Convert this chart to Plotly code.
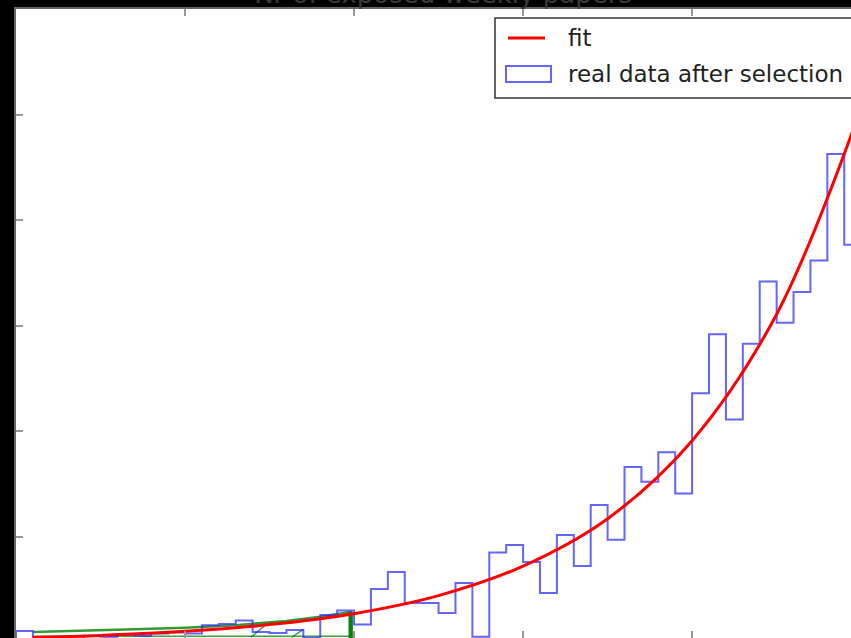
import plotly.graph_objects as go

# ---- data ----
bin_edges = list(range(0, 51))
counts = [10.4, 4, 5, 3, 6, 5, 7, 6, 8, 9, 8,
          16, 17, 20.4, 9.5, 8.5, 11.4, 4, 25.6, 29.9,
          16.6, 50.3, 66.4, 37, 37, 27.5, 56, 5, 85, 92,
          76, 46.5, 101.5, 72, 130, 97, 166, 152, 180, 141,
          236, 292, 211, 283, 342, 303, 332, 362, 463, 377]

fit_x = [1, 5, 10, 15, 20, 25, 30, 35, 40, 45, 50]
fit_y = [4.2, 6.2, 10.1, 16.5, 26.9, 44, 72, 117, 191, 311, 507]

green_x = [1, 4, 7, 10, 13, 16, 18, 19.8, 19.8]
green_y = [9.5, 10.5, 12, 13.5, 16, 20, 24, 28.5, 0]

green_low_x = [1, 19.8, None, 13.9, 14.9, None, 16.3, 17.0]
green_low_y = [5.5, 5.5, None, 4.5, 18, None, 4.5, 12]

x_ticks = [0, 10, 20, 30, 40]
y_ticks = [100, 200, 300, 400, 500, 600]

title_text = "Nr of exposed weekly papers"
legend_labels = ["fit", "real data after selection"]

# ---- geometry helpers (page pixels -> paper coords) ----
W, H = 851, 638
ML, MT = 16, 9
PW, PH = W - ML, H - MT


def px(x):
    return (x - ML) / PW


def py(y):
    return (H - y) / PH


# ---- build step outline of histogram ----
step_x = [bin_edges[0]] + bin_edges[:-1] + [bin_edges[-1], bin_edges[-1]]
step_y = [0] + counts + [counts[-1], 0]

BLUE = "rgba(40,40,255,0.72)"
RED = "#ff0000"
GREEN = "rgba(0,128,0,0.8)"
fig = go.Figure()

fig.add_trace(go.Scatter(x=green_low_x, y=green_low_y, mode="lines",
                         line=dict(color="rgba(0,128,0,0.75)", width=1.5),
                         showlegend=False, hoverinfo="skip"))
fig.add_trace(go.Scatter(x=green_x, y=green_y, mode="lines",
                         line=dict(color=GREEN, width=2.5),
                         showlegend=False, hoverinfo="skip"))
# the thick drop at the end of the green line
fig.add_trace(go.Scatter(x=green_x[-2:], y=green_y[-2:], mode="lines",
                         line=dict(color="rgba(0,128,0,0.9)", width=4.5),
                         showlegend=False, hoverinfo="skip"))

fig.add_trace(go.Scatter(x=step_x, y=step_y, mode="lines", line_shape="hv",
                         line=dict(color=BLUE, width=2),
                         showlegend=False, name=legend_labels[1]))

fig.add_trace(go.Scatter(x=fit_x, y=fit_y, mode="lines", line_shape="spline",
                         line=dict(color=RED, width=3),
                         name=legend_labels[0], showlegend=False))

# make xaxis2 appear even without traces
fig.add_trace(go.Scatter(x=[None], y=[None], xaxis="x2", showlegend=False))

# ---- matplotlib-like legend box ----
shapes = [
    dict(type="rect", xref="paper", yref="paper",
         x0=px(495), x1=px(856), y0=py(98), y1=py(18),
         line=dict(color="#333", width=1.5), fillcolor="white", layer="above"),
    dict(type="line", xref="paper", yref="paper",
         x0=px(508), x1=px(545), y0=py(38), y1=py(38),
         line=dict(color=RED, width=3), layer="above"),
    dict(type="rect", xref="paper", yref="paper",
         x0=px(506), x1=px(551), y0=py(82), y1=py(66),
         line=dict(color=BLUE, width=2), fillcolor="white", layer="above"),
]
annotations = [
    dict(text=legend_labels[0], xref="paper", yref="paper", x=px(566), y=py(38),
         xanchor="left", yanchor="middle", showarrow=False,
         font=dict(size=23, color="#222", family="DejaVu Sans")),
    dict(text=legend_labels[1], xref="paper", yref="paper", x=px(566), y=py(74),
         xanchor="left", yanchor="middle", showarrow=False,
         font=dict(size=23, color="#222", family="DejaVu Sans")),
]

fig.update_layout(
    width=W, height=H,
    margin=dict(l=ML, r=0, t=MT, b=0),
    paper_bgcolor="black",
    plot_bgcolor="white",
    font=dict(family="DejaVu Sans", color="#222"),
    title=dict(text=title_text, x=443 / W, xanchor="center",
               yref="container", y=1 - 3 / H, yanchor="bottom",
               font=dict(size=26, color="#3a3a3a", family="DejaVu Sans")),
    xaxis=dict(range=[0, 49.4], showline=False, showgrid=False, zeroline=False,
               ticks="inside", tickvals=x_ticks, ticklen=7, tickwidth=1.5,
               tickcolor="#999", showticklabels=False),
    xaxis2=dict(range=[0, 49.4], overlaying="x", side="top", anchor="y",
                showline=True, linecolor="#666", linewidth=2,
                showgrid=False, zeroline=False,
                ticks="inside", tickvals=x_ticks, ticklen=7, tickwidth=1.5,
                tickcolor="#999", showticklabels=False),
    yaxis=dict(range=[3.8, 600.6], showline=True, linecolor="#666", linewidth=2,
               showgrid=False, zeroline=False, ticks="inside", tickvals=y_ticks,
               ticklen=7, tickwidth=1.5, tickcolor="#999", showticklabels=False),
    shapes=shapes,
    annotations=annotations,
    showlegend=False,
)

fig.write_html(
    "out.html",
    config={"displayModeBar": False},
    post_script="document.body.style.margin='0';document.body.style.overflow='hidden';"
                "document.body.style.background='black';",
)
